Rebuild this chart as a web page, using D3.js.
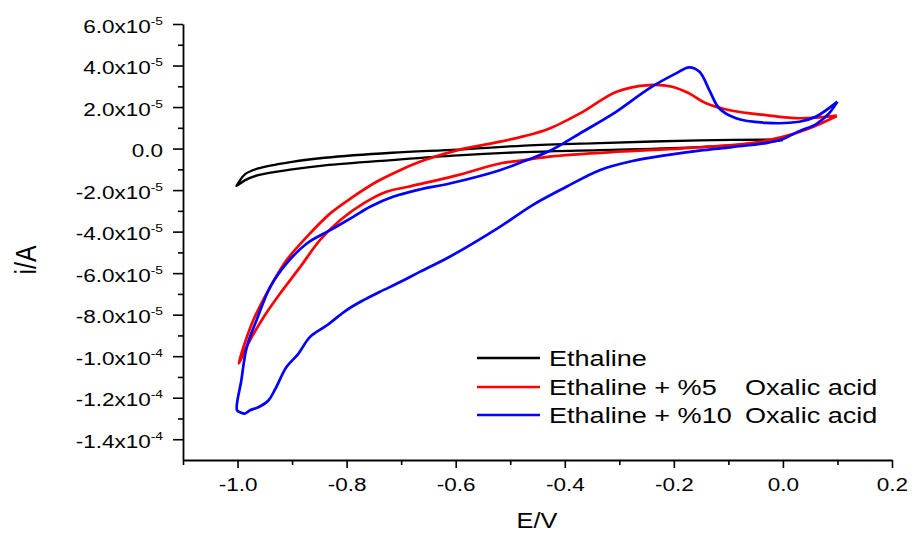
<!DOCTYPE html>
<html>
<head>
<meta charset="utf-8">
<script src="https://cdn.jsdelivr.net/npm/d3@7"></script>
<style>
  html, body { margin: 0; padding: 0; background: #fff; }
  svg { display: block; font-family: "Liberation Sans", Arial, sans-serif; }
</style>
</head>
<body>
<svg id="chart" width="914" height="535"></svg>
<script>
// Cyclic voltammograms: potential E (V) vs current i (A)

// Ethaline (blank): reverse branch from 0.0 V to -1.0 V, then forward back to 0.0 V
const ethalineE = [0.0, -0.153, -0.336, -0.474, -0.596, -0.717, -0.840, -0.900, -0.962, -0.986, -1.0, -1.002,
  -0.986, -0.962, -0.900, -0.840, -0.717, -0.596, -0.474, -0.336, -0.153, -0.044, 0.0];
const ethalineI = [4.4e-6, 3.95e-6, 2.65e-6, 1.45e-6, -0.48e-6, -2.02e-6, -4.43e-6, -6.36e-6, -9.54e-6, -1.23e-5, -1.71e-5, -1.8e-5,
  -1.52e-5, -1.28e-5, -1.0e-5, -8.1e-6, -5.54e-6, -3.28e-6, -1.69e-6, -0.72e-6, 0.72e-6, 2.65e-6, 4.1e-6];

// Ethaline + 5% oxalic acid
const ox5E = [0.099, 0.048, -0.002, -0.062, -0.184, -0.305, -0.428, -0.474, -0.519, -0.596, -0.687, -0.727, -0.769,
  -0.812, -0.849, -0.885, -0.922, -0.952, -0.977, -0.998,
  -0.989, -0.971, -0.940, -0.910, -0.873, -0.830, -0.788, -0.745, -0.702, -0.657, -0.596, -0.534, -0.474,
  -0.428, -0.367, -0.305, -0.245, -0.203, -0.172, -0.141, -0.093, -0.031, 0.030, 0.099];
const ox5I = [1.57e-5, 9.7e-6, 5.5e-6, 2.5e-6, 0.1e-6, -1.54e-6, -3.86e-6, -5.54e-6, -7.2e-6, -1.28e-5, -1.84e-5, -2.08e-5, -2.64e-5,
  -3.45e-5, -4.41e-5, -5.70e-5, -6.98e-5, -8.11e-5, -9.23e-5, -1.035e-4,
  -9.55e-5, -8.26e-5, -6.66e-5, -5.37e-5, -4.25e-5, -3.12e-5, -2.32e-5, -1.60e-5, -1.04e-5, -5.54e-6, -0.72e-6, 2.5e-6, 6.0e-6,
  9.7e-6, 1.77e-5, 2.74e-5, 3.06e-5, 2.98e-5, 2.66e-5, 2.18e-5, 1.82e-5, 1.61e-5, 1.46e-5, 1.59e-5];

// Ethaline + 10% oxalic acid
const ox10E = [0.100, 0.085, 0.061, 0.030, 0.0, -0.031, -0.093, -0.153, -0.213, -0.276, -0.336, -0.397, -0.459, -0.519,
  -0.611, -0.666, -0.702, -0.739, -0.769, -0.800, -0.836, -0.867, -0.889, -0.910, -0.931, -0.943, -0.962, -0.977,
  -0.986, -0.995, -1.001,
  -0.993, -0.983, -0.965, -0.940, -0.910, -0.873, -0.830, -0.788, -0.757, -0.715, -0.666, -0.611, -0.519, -0.474,
  -0.428, -0.367, -0.306, -0.245, -0.196, -0.172, -0.153, -0.135, -0.117, -0.086, -0.031, 0.030, 0.060, 0.100];
const ox10I = [2.26e-5, 1.71e-5, 1.18e-5, 8.4e-6, 4.6e-6, 2.65e-6, 0.72e-6, -0.96e-6, -3.13e-6, -6.0e-6, -1.04e-5, -1.84e-5, -2.72e-5, -3.77e-5,
  -5.21e-5, -5.94e-5, -6.43e-5, -6.90e-5, -7.30e-5, -7.78e-5, -8.51e-5, -9.07e-5, -9.90e-5, -1.051e-4, -1.159e-4, -1.212e-4, -1.246e-4, -1.26e-4,
  -1.276e-4, -1.27e-4, -1.26e-4,
  -1.116e-4, -9.55e-5, -8.26e-5, -6.66e-5, -5.53e-5, -4.57e-5, -3.93e-5, -3.29e-5, -2.80e-5, -2.32e-5, -1.97e-5, -1.68e-5, -1.04e-5, -6.0e-6,
  -1.2e-6, 8.1e-6, 1.77e-5, 2.90e-5, 3.62e-5, 3.91e-5, 3.70e-5, 2.82e-5, 1.94e-5, 1.46e-5, 1.24e-5, 1.29e-5, 1.53e-5, 2.26e-5];

const seriesNames = ["Ethaline", "Ethaline + %5", "Ethaline + %10"];
const seriesSuffix = "Oxalic acid";
const seriesColors = ["#000000", "#ff0000", "#0000ff"];

// Axis ticks
const xMajorTicks = [-1.0, -0.8, -0.6, -0.4, -0.2, 0.0, 0.2];
const xTickLabels = ["-1.0", "-0.8", "-0.6", "-0.4", "-0.2", "0.0", "0.2"];
const xMinorTicks = [-1.1, -0.9, -0.7, -0.5, -0.3, -0.1, 0.1];
const yMajorTicks = [6e-5, 4e-5, 2e-5, 0, -2e-5, -4e-5, -6e-5, -8e-5, -1.0e-4, -1.2e-4, -1.4e-4];
const yTickMantissa = ["6.0", "4.0", "2.0", "0.0", "-2.0", "-4.0", "-6.0", "-8.0", "-1.0", "-1.2", "-1.4"];
const yTickExponent = ["-5", "-5", "-5", "", "-5", "-5", "-5", "-5", "-4", "-4", "-4"];
const yMinorTicks = [5e-5, 3e-5, 1e-5, -1e-5, -3e-5, -5e-5, -7e-5, -9e-5, -1.1e-4, -1.3e-4];

const svg = d3.select("#chart");
const x = d3.scaleLinear().domain([-1.1, 0.2]).range([183, 892]);
const y = d3.scaleLinear().domain([-1.5e-4, 6e-5]).range([460, 24]);

const axisStroke = 1.6;
const stretch = 1.25; // glyphs are drawn wide

// x axis
const xAxisG = svg.append("g").attr("transform", "translate(0,460)");
xAxisG.call(d3.axisBottom(x).tickValues(xMinorTicks).tickSize(5).tickSizeOuter(0).tickFormat(""));
xAxisG.call(g => g.selectAll(".domain").remove());
const xMajorG = svg.append("g").attr("transform", "translate(0,460)");
xMajorG.call(d3.axisBottom(x).tickValues(xMajorTicks).tickSize(8).tickSizeOuter(0)
  .tickFormat((d, i) => xTickLabels[i]));

// y axis
const yMinorG = svg.append("g").attr("transform", "translate(183,0)");
yMinorG.call(d3.axisLeft(y).tickValues(yMinorTicks).tickSize(5).tickSizeOuter(0).tickFormat(""));
yMinorG.call(g => g.selectAll(".domain").remove());
const yMajorG = svg.append("g").attr("transform", "translate(183,0)");
yMajorG.call(d3.axisLeft(y).tickValues(yMajorTicks).tickSize(10).tickSizeOuter(0).tickFormat(""));

svg.selectAll(".domain, .tick line").attr("stroke", "#000").attr("stroke-width", axisStroke);
svg.selectAll(".domain").attr("stroke-width", axisStroke + 0.2);

// x tick labels
xMajorG.selectAll(".tick text")
  .attr("fill", "#000").attr("font-size", 18).attr("y", 0).attr("dy", 0)
  .attr("transform", `translate(0,31) scale(${stretch},1)`);

// y tick labels with superscript exponents
yMajorG.selectAll(".tick").each(function(d, i) {
  const t = d3.select(this).append("text")
    .attr("fill", "#000").attr("text-anchor", "end")
    .attr("font-size", 18)
    .attr("transform", `translate(-20,8) scale(${stretch},1)`);
  if (yTickExponent[i]) {
    t.append("tspan").text(yTickMantissa[i] + "x10");
    t.append("tspan").attr("font-size", 11).attr("dy", -8).text(yTickExponent[i]);
  } else {
    t.append("tspan").text(yTickMantissa[i]);
  }
});

// Axis titles
svg.append("text").attr("transform", `translate(537,528) scale(1.15,1)`).attr("text-anchor", "middle")
  .attr("font-size", 22).attr("fill", "#000").text("E/V");
svg.append("text").attr("transform", `translate(36,260) scale(1.2,1) rotate(-90)`).attr("text-anchor", "middle")
  .attr("font-size", 25).attr("fill", "#000").text("i/A");

// Curves
const line = d3.line().x(d => x(d[0])).y(d => y(d[1])).curve(d3.curveCatmullRom.alpha(0.5));
const series = [
  d3.zip(ethalineE, ethalineI),
  d3.zip(ox5E, ox5I),
  d3.zip(ox10E, ox10I)
];
const widths = [2.3, 2.7, 2.7];
const plot = svg.append("g");
series.forEach((pts, k) => {
  plot.append("path").attr("d", line(pts))
    .attr("fill", "none").attr("stroke", seriesColors[k])
    .attr("stroke-width", widths[k]).attr("stroke-linejoin", "round");
});

// Legend
const legend = svg.append("g");
const legRows = [358, 387, 415];
seriesNames.forEach((name, k) => {
  legend.append("line").attr("x1", 477).attr("x2", 540).attr("y1", legRows[k]).attr("y2", legRows[k])
    .attr("stroke", seriesColors[k]).attr("stroke-width", 2.4);
  legend.append("text").attr("transform", `translate(549,${legRows[k] + 8}) scale(1.23,1)`).attr("font-size", 22)
    .attr("fill", "#000").text(name);
  if (k > 0) {
    legend.append("text").attr("transform", `translate(745,${legRows[k] + 8}) scale(1.23,1)`).attr("font-size", 22)
      .attr("fill", "#000").text(seriesSuffix);
  }
});
</script>
</body>
</html>
